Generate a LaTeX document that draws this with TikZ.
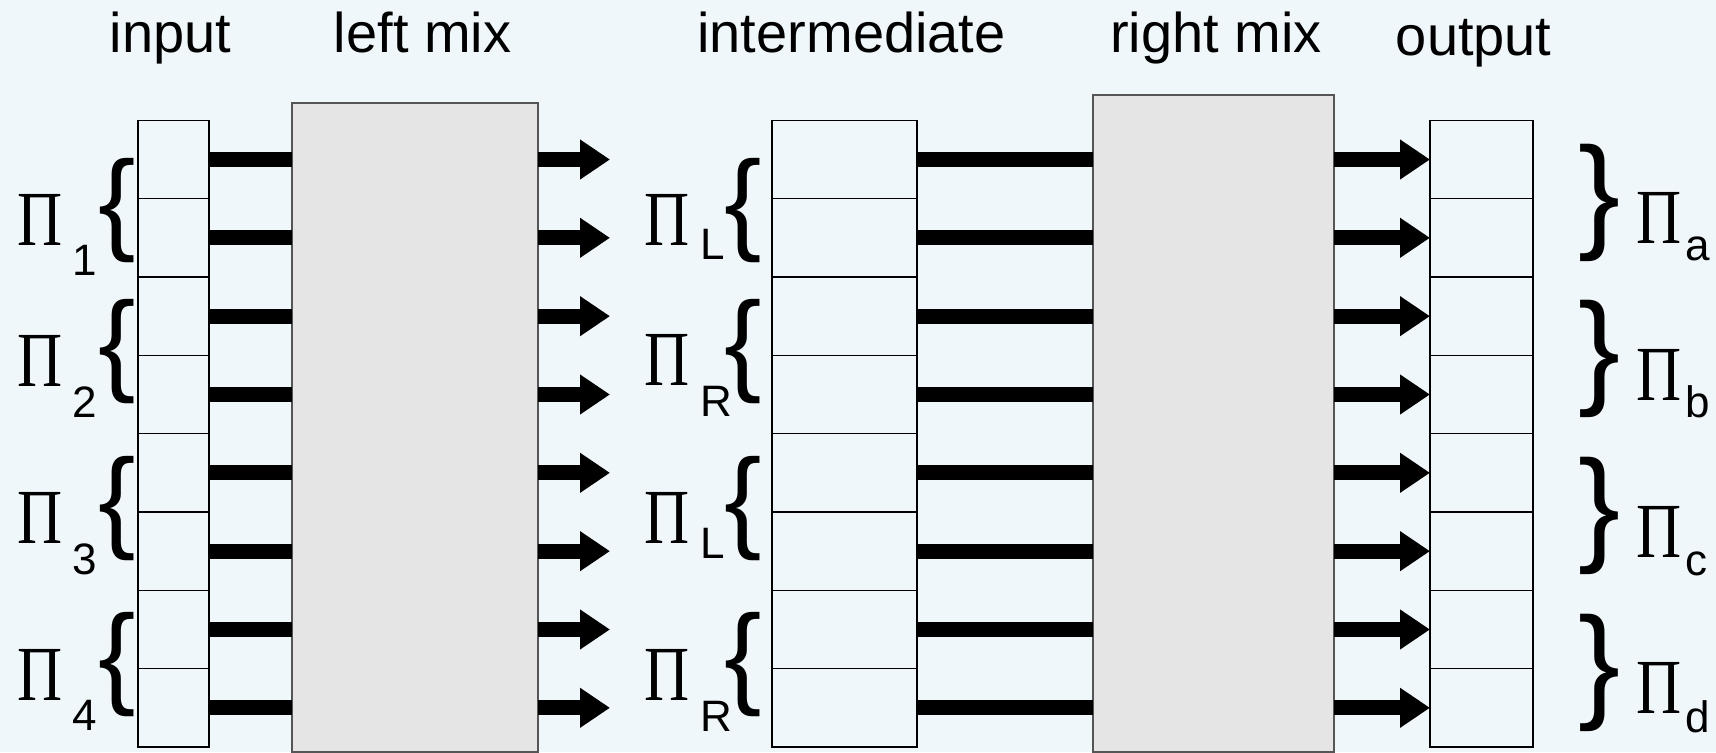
\documentclass[tikz,border=0pt]{standalone}
\usepackage{fontspec}
\setmainfont{Liberation Sans}
\newfontfamily\pifont{Liberation Serif}
\usetikzlibrary{positioning, calc, arrows.meta}
\definecolor{bgblue}{RGB}{240,247,250}
\definecolor{mixgray}{RGB}{229,229,229}
\definecolor{edgegray}{RGB}{85,85,85}
\newcommand{\pig}{\scalebox{0.8}[1]{Π}}

\begin{document}
\begin{tikzpicture}[x=0.5pt, y=-0.5pt,
    cell/.style={draw, line width=0.7pt, fill=bgblue, minimum height=39.17pt, inner sep=0pt, outer sep=0pt},
    mixbox/.style={draw=edgegray, line width=0.8pt, fill=mixgray, inner sep=0pt, outer sep=0pt},
    wire/.style={line width=7.5pt},
    arrowwire/.style={wire, -{Triangle[length=15pt, width=19pt]}},
    heading/.style={font=\fontsize{28}{32}\selectfont, anchor=base, inner sep=0pt},
    pisym/.style={font=\pifont\fontsize{39}{42}\selectfont, anchor=base west, inner sep=0pt},
    subsym/.style={font=\fontsize{22}{24}\selectfont, anchor=base west, inner sep=0pt},
    lbrace/.style={font=\fontsize{56}{60}\selectfont, inner sep=0pt},
    rbrace/.style={font=\fontsize{63}{66}\selectfont, inner sep=0pt}]

    % Background
    \fill[bgblue] (0,0) rectangle (1716,752);
    \useasboundingbox (0,0) rectangle (1716,752);

    % Headings
    \node[heading] (hin) at (170.5,52.7) {input};
    \node[heading] (hleft) at (422.6,52.7) {left mix};
    \node[heading] (hmid) at (851.5,52.7) {intermediate};
    \node[heading] (hright) at (1216,52.7) {right mix};
    \node[heading] (hout) at (1473.7,55) {output};

    % Mix boxes
    \node[mixbox, minimum width=123pt, minimum height=324.5pt] (lmix) at (415,427.5) {};
    \node[mixbox, minimum width=120.5pt, minimum height=328.5pt] (rmix) at (1213.5,423.5) {};

    % Register columns
    \foreach \i in {1,...,8} {
        \node[cell, minimum width=35.5pt] (in\i) at (173.5,{120.33+(\i-0.5)*78.33}) {};
        \node[cell, minimum width=72.5pt] (mid\i) at (844.5,{120.33+(\i-0.5)*78.33}) {};
        \node[cell, minimum width=51.5pt] (out\i) at (1481.5,{120.33+(\i-0.5)*78.33}) {};
        \coordinate (tip\i) at (610,{120.33+(\i-0.5)*78.33});
    }

    % Wires through the two mixes
    \foreach \i in {1,...,8} {
        \draw[wire] (in\i.east) -- (lmix.west |- in\i.east);
        \draw[arrowwire] (lmix.east |- tip\i) -- (tip\i);
        \draw[wire] (mid\i.east) -- (rmix.west |- mid\i.east);
        \draw[arrowwire] (rmix.east |- out\i.west) -- (out\i.west);
    }

    % Pi labels with subscripts
    \foreach \n/\px/\py/\s/\sx/\sy in {1/17/245/1/72/275, 2/17/386/2/72/417, 3/17/543/3/72/574, 4/17/700/4/72/730,
        5/644/245/L/700/259, 6/644/385/R/700/416, 7/644/543/L/700/558, 8/644/700/R/700/731,
        a/1636/243/a/1685/260, b/1636/400/b/1685/417, c/1636/557/c/1685/575, d/1636/713/d/1685/732} {
        \node[pisym] (pi\n) at (\px,\py) {\pig};
        \node[subsym] (sub\n) at (\sx,\sy) {\s};
    }

    % Braces
    \foreach \n/\x/\y in {1/117/210.5, 2/117/352, 3/117/508.5, 4/117/665,
        5/743.5/210.5, 6/743.5/352, 7/743.5/508.5, 8/743.5/665}
        \node[lbrace] (br\n) at (\x,\y) {\{};
    \foreach \n/\y in {a/202.5, b/359, c/516, d/672.5}
        \node[rbrace] (br\n) at (1600,\y) {\}};
\end{tikzpicture}
\end{document}
